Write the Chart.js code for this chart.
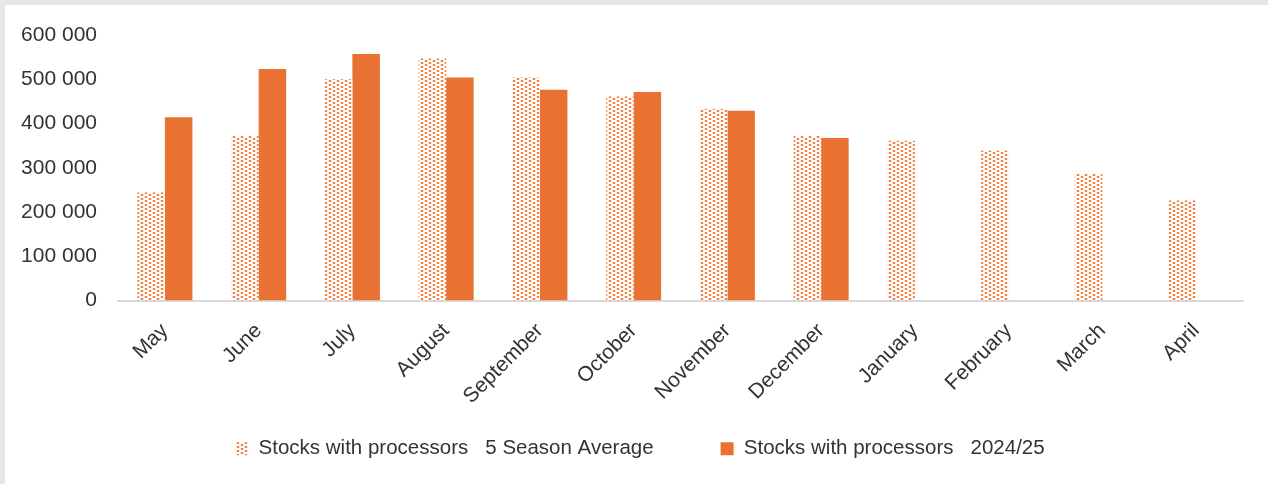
<!DOCTYPE html>
<html>
<head>
<meta charset="utf-8">
<script src="https://cdn.jsdelivr.net/npm/chart.js@4.4.1/dist/chart.umd.min.js"></script>
<style>
  html, body { margin: 0; padding: 0; background: #fff; }
  #wrap { position: absolute; left: 0; top: 0; width: 1268px; height: 484px; }
</style>
</head>
<body>
<div id="wrap"><canvas id="c" width="1268" height="484"></canvas></div>
<script>
const categories = ['May', 'June', 'July', 'August', 'September', 'October', 'November', 'December', 'January', 'February', 'March', 'April'];
const fiveSeasonAverage = [244000, 372000, 500000, 547000, 504000, 461000, 433000, 372000, 361000, 339000, 286000, 226000];
const season2024 = [414000, 523000, 557000, 504000, 476000, 471000, 429000, 367000, null, null, null, null];
const seriesLabels = ['Stocks with processors   5 Season Average', 'Stocks with processors   2024/25'];
const yTicks = [0, 100000, 200000, 300000, 400000, 500000, 600000];

function makeDots() {
  const c = document.createElement('canvas');
  c.width = 8; c.height = 4;
  const g = c.getContext('2d');
  g.fillStyle = '#ffffff';
  g.fillRect(0, 0, 8, 4);
  g.fillStyle = '#fbe3d5';
  g.fillRect(0, 0, 1, 2); g.fillRect(3, 0, 1, 2);
  g.fillRect(4, 2, 1, 2); g.fillRect(7, 2, 1, 2);
  g.fillStyle = '#ee8042';
  g.fillRect(1, 0, 2, 2); g.fillRect(5, 2, 2, 2);
  return g.createPattern(c, 'repeat');
}
const dots = makeDots();

const frame = {
  id: 'frame',
  beforeDraw(chart) {
    const ctx = chart.ctx;
    ctx.save();
    ctx.fillStyle = '#e7e6e6';
    ctx.fillRect(0, 0, chart.width, chart.height);
    ctx.fillStyle = '#ffffff';
    ctx.fillRect(5, 5, chart.width - 5, chart.height - 5);
    ctx.restore();
  },
  afterLayout(chart) {
    if (chart.legend) {
      chart.legend.left += 16;
      chart.legend.right += 16;
    }
  }
};

function fmt(v) {
  return String(v).replace(/\B(?=(\d{3})+(?!\d))/g, ' ');
}

new Chart(document.getElementById('c'), {
  type: 'bar',
  data: {
    labels: categories,
    datasets: [
      { label: seriesLabels[0], data: fiveSeasonAverage, backgroundColor: dots, borderWidth: 0 },
      { label: seriesLabels[1], data: season2024, backgroundColor: '#e97132', borderWidth: 0 }
    ]
  },
  options: {
    responsive: false,
    animation: false,
    devicePixelRatio: 1,
    layout: { padding: { left: 5, right: 25, top: 35, bottom: 15 } },
    datasets: { bar: { categoryPercentage: 0.587, barPercentage: 1.0 } },
    plugins: {
      tooltip: { enabled: false },
      legend: {
        position: 'bottom',
        labels: {
          boxWidth: 13, boxHeight: 13, padding: 67,
          color: '#333333',
          font: { family: "'Liberation Sans', Arial, sans-serif", size: 20.5 }
        }
      }
    },
    scales: {
      x: {
        grid: { display: false, drawTicks: false },
        border: { display: true, color: '#d9d9d9', width: 2 },
        ticks: {
          minRotation: 45, maxRotation: 45, padding: 18, autoSkip: false,
          color: '#333333',
          font: { family: "'Liberation Sans', Arial, sans-serif", size: 21 }
        },
        afterFit(scale) {
          scale.height = 71;
          scale._computeLabelArea = function () { return undefined; };
        }
      },
      y: {
        min: 0, max: 600000,
        afterBuildTicks(scale) { scale.ticks = yTicks.map(v => ({ value: v })); },
        grid: { display: false, drawTicks: false },
        border: { display: false },
        ticks: {
          padding: 21,
          color: '#333333',
          font: { family: "'Liberation Sans', Arial, sans-serif", size: 21 },
          callback: (v) => fmt(v)
        },
        afterFit(scale) { scale.width = 113; }
      }
    }
  },
  plugins: [frame]
});
</script>
</body>
</html>
